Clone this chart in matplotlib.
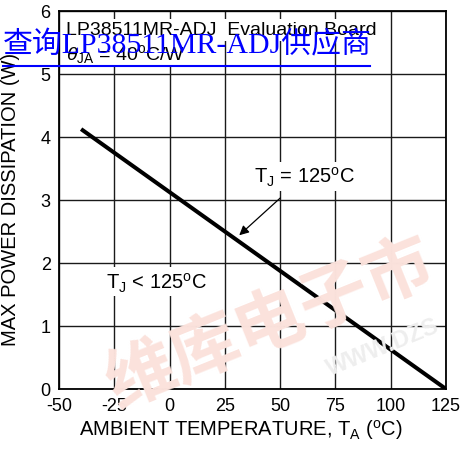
import numpy as np
import matplotlib
matplotlib.use('Agg')
import matplotlib.pyplot as plt

plt.rcParams['font.family'] = ['Liberation Sans', 'DejaVu Sans']
plt.rcParams['mathtext.fontset'] = 'custom'
plt.rcParams['mathtext.rm'] = 'Liberation Sans'
plt.rcParams['mathtext.it'] = 'Liberation Sans:italic'
plt.rcParams['mathtext.sf'] = 'Liberation Sans'
plt.rcParams['axes.unicode_minus'] = False

# derating curve: Pd = (125 - Ta) / 40
temp = [-40, 125]
power = [4.125, 0.0]

xticks = [-50, -25, 0, 25, 50, 75, 100, 125]
yticks = [0, 1, 2, 3, 4, 5, 6]

def draw_chart():
    fig = plt.figure(figsize=(4.67, 4.64), dpi=100)
    ax = fig.add_axes([0.1263, 0.1595, 0.8287, 0.8147])
    ax.set_facecolor('none')

    # faint watermark behind the plot
    fig.text(0.58, 0.30, '维库电子市', family=['Noto Sans CJK SC', 'DejaVu Sans'],
             fontsize=50, fontweight='bold', color='#fbe2dc',
             rotation=22, ha='center', va='center', zorder=0)
    fig.text(0.82, 0.25, 'WWW.DZS', fontsize=17, fontweight='bold',
             color='#eeeeee', rotation=22, ha='center', va='center', zorder=0)

    ax.plot(temp, power, color='black', lw=2.9, solid_capstyle='butt', zorder=3)

    ax.set_xlim(-50, 125)
    ax.set_ylim(0, 6)
    ax.set_xticks(xticks)
    ax.set_yticks(yticks)
    ax.tick_params(length=0, labelsize=13, pad=6)
    ax.grid(True, color='#1a1a1a', lw=1.0)
    ax.set_axisbelow(True)
    for s in ax.spines.values():
        s.set_linewidth(1.3)

    ax.set_xlabel(r'AMBIENT TEMPERATURE, T$_\mathregular{A}$ ($^\mathregular{o}$C)', fontsize=14.5)
    ax.xaxis.set_label_coords(0.47, -0.075)
    ax.set_ylabel('MAX POWER DISSIPATION (W)', fontsize=14.5)
    ax.yaxis.set_label_coords(-0.1, 0.503)

    box = dict(facecolor='white', edgecolor='none', pad=2)
    ax.text(-46.8, 5.7, 'LP38511MR-ADJ  Evaluation Board', fontsize=14, ha='left', va='center',
            bbox=box, zorder=4)
    ax.text(-46.8, 5.33, r'$\theta_\mathregular{JA}$ = 40$^\mathregular{o}$C/W', fontsize=14,
            ha='left', va='center', bbox=box, zorder=4)
    ax.text(-6, 1.7, r'T$_\mathregular{J}$ < 125$^\mathregular{o}$C', fontsize=14.5,
            ha='center', va='center', bbox=box, zorder=4)
    ax.annotate(r'T$_\mathregular{J}$ = 125$^\mathregular{o}$C', xy=(31.5, 2.44), xytext=(61, 3.38),
                fontsize=14.5, ha='center', va='center', bbox=box, zorder=4,
                arrowprops=dict(arrowstyle='-|>', color='black', lw=0.9,
                                shrinkA=8, shrinkB=0, mutation_scale=14))

    # overlaid link text
    fig.text(0.006, 0.903, '查询LP38511MR-ADJ供应商', family=['Liberation Serif', 'Noto Sans CJK SC'],
             fontsize=21.5, color='#0000ff', ha='left', va='center', zorder=10)
    fig.add_artist(plt.Line2D([0.006, 0.792], [0.856, 0.856], color='#0000ff', lw=1.5,
                              transform=fig.transFigure, zorder=10))

    plt.savefig('out.png', dpi=100)

draw_chart()
